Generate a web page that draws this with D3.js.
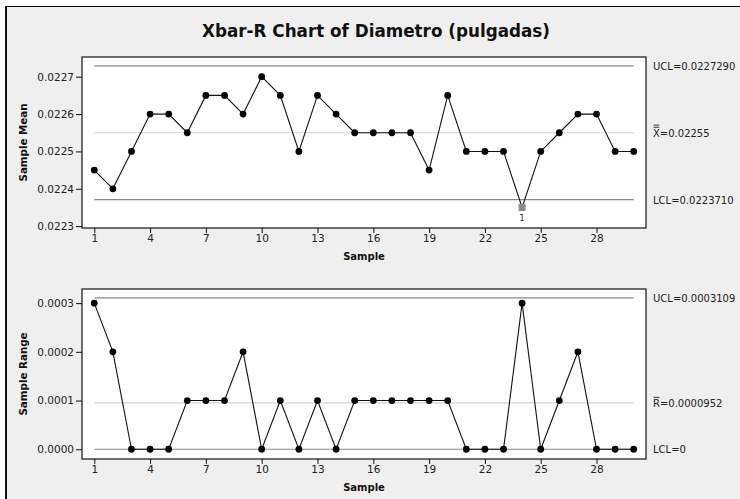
<!DOCTYPE html>
<html><head><meta charset="utf-8">
<script src="https://cdn.jsdelivr.net/npm/d3@7"></script>
<style>
body{margin:0;background:#fff;}
svg{display:block;font-family:"DejaVu Sans",Verdana,sans-serif;}
</style></head><body>
<svg id="c" width="740" height="499"></svg>
<script>
const samples = d3.range(1, 31);
const means = [0.02245,0.0224,0.0225,0.0226,0.0226,0.02255,0.02265,0.02265,0.0226,0.0227,
  0.02265,0.0225,0.02265,0.0226,0.02255,0.02255,0.02255,0.02255,0.02245,0.02265,
  0.0225,0.0225,0.0225,0.02235,0.0225,0.02255,0.0226,0.0226,0.0225,0.0225];
const ranges = [0.0003,0.0002,0,0,0,0.0001,0.0001,0.0001,0.0002,0,
  0.0001,0,0.0001,0,0.0001,0.0001,0.0001,0.0001,0.0001,0.0001,
  0,0,0,0.0003,0,0.0001,0.0002,0,0,0];
const xTicks = [1,4,7,10,13,16,19,22,25,28];
const meanTicks = [0.0223,0.0224,0.0225,0.0226,0.0227];
const rangeTicks = [0,0.0001,0.0002,0.0003];
const meanLimits = {UCL:0.022729, CL:0.02255, LCL:0.022371};
const rangeLimits = {UCL:0.0003109, CL:0.0000952, LCL:0};
// [symbol, number of bars, rest]
const meanLabels = [["UCL",0,"=0.0227290"],["X",2,"=0.02255"],["LCL",0,"=0.0223710"]];
const rangeLabels = [["UCL",0,"=0.0003109"],["R",1,"=0.0000952"],["LCL",0,"=0"]];
const outOfControl = [24];

const svg = d3.select("#c");
svg.append("rect").attr("x",5).attr("y",6).attr("width",740).attr("height",499)
  .attr("fill","#efefef").attr("stroke","none");
svg.append("line").attr("x1",6).attr("x2",6).attr("y1",6).attr("y2",499).attr("stroke","#111").attr("stroke-width",2);
svg.append("line").attr("x1",5).attr("x2",740).attr("y1",6.5).attr("y2",6.5).attr("stroke","#111").attr("stroke-width",1);

svg.append("text").attr("x",376).attr("y",37).attr("text-anchor","middle")
  .attr("font-weight","bold").attr("font-size",16.8).attr("fill","#111")
  .text("Xbar-R Chart of Diametro (pulgadas)");

const L = 82, R = 646;
const x = d3.scaleLinear().domain([0.34, 30.66]).range([L, R]);

function panel(top, bottom, yDomain, ticks, fmt, vals, limits, labels, ylabel, flagged) {
  const y = d3.scaleLinear().domain(yDomain).range([bottom, top]);
  const g = svg.append("g");
  g.append("rect").attr("x",L).attr("y",top).attr("width",R-L).attr("height",bottom-top)
    .attr("fill","#fff").attr("stroke","#111").attr("stroke-width",1.2);
  [["UCL","#8a8a8a"],["CL","#d4d4d4"],["LCL","#8a8a8a"]].forEach(([k,c])=>{
    g.append("line").attr("x1",x(1)).attr("x2",x(30))
      .attr("y1",y(limits[k])).attr("y2",y(limits[k])).attr("stroke",c).attr("stroke-width",1.2);
  });
  const ax = d3.axisLeft(y).tickValues(ticks).tickFormat(fmt).tickSize(6).tickPadding(2);
  const ga = g.append("g").attr("transform",`translate(${L},0)`).call(ax);
  ga.select(".domain").remove();
  ga.selectAll("text").attr("font-size",10.5).attr("fill","#222").attr("font-family","DejaVu Sans");
  ga.selectAll("line").attr("stroke","#111");
  const bx = d3.axisBottom(x).tickValues(xTicks).tickFormat(d3.format("d")).tickSize(5).tickPadding(2);
  const gb = g.append("g").attr("transform",`translate(0,${bottom})`).call(bx);
  gb.select(".domain").remove();
  gb.selectAll("text").attr("font-size",10.5).attr("fill","#222").attr("font-family","DejaVu Sans");
  gb.selectAll("line").attr("stroke","#111");
  g.append("text").attr("x",(L+R)/2).attr("y",bottom+32).attr("text-anchor","middle")
    .attr("font-weight","bold").attr("font-size",10).attr("fill","#111").text("Sample");
  g.append("text").attr("transform",`translate(27,${(top+bottom)/2}) rotate(-90)`)
    .attr("text-anchor","middle").attr("font-weight","bold").attr("font-size",10.3).attr("fill","#111").text(ylabel);
  const line = d3.line().x((d,i)=>x(samples[i])).y(d=>y(d));
  g.append("path").datum(vals).attr("d",line).attr("fill","none").attr("stroke","#111").attr("stroke-width",1.1);
  g.selectAll("circle.p").data(vals.map((v,i)=>({s:samples[i],v})).filter(d=>!flagged.includes(d.s)))
    .enter().append("circle").attr("cx",d=>x(d.s)).attr("cy",d=>y(d.v)).attr("r",3.4).attr("fill","#000");
  vals.forEach((v,i)=>{
    if (flagged.includes(samples[i])) {
      g.append("rect").attr("x",x(samples[i])-3.5).attr("y",y(v)-3.5).attr("width",7).attr("height",7).attr("fill","#8c8c8c");
      g.append("text").attr("x",x(samples[i])).attr("y",y(v)+14).attr("text-anchor","middle")
        .attr("font-size",8).attr("fill","#222").text("1");
    }
  });
  ["UCL","CL","LCL"].forEach((k,i)=>{
    const [sym, bars, rest] = labels[i];
    const yy = y(limits[k]) + 4;
    const t = g.append("text").attr("x",653).attr("y",yy).attr("font-size",10).attr("fill","#222");
    const s1 = t.append("tspan").text(sym);
    t.append("tspan").text(rest);
    if (bars > 0) {
      const w = s1.node().getComputedTextLength();
      for (let b = 0; b < bars; b++) {
        const by = yy - 9.5 - b * 2.2;
        g.append("line").attr("x1",653.5).attr("x2",653 + w - 0.5).attr("y1",by).attr("y2",by)
          .attr("stroke","#222").attr("stroke-width",0.9);
      }
    }
  });
}

panel(57, 228, [0.022295, 0.0227528], meanTicks, d3.format(".4f"), means, meanLimits, meanLabels, "Sample Mean", outOfControl);
panel(289, 459, [-0.00002, 0.000329], rangeTicks, d3.format(".4f"), ranges, rangeLimits, rangeLabels, "Sample Range", []);
</script></body></html>
